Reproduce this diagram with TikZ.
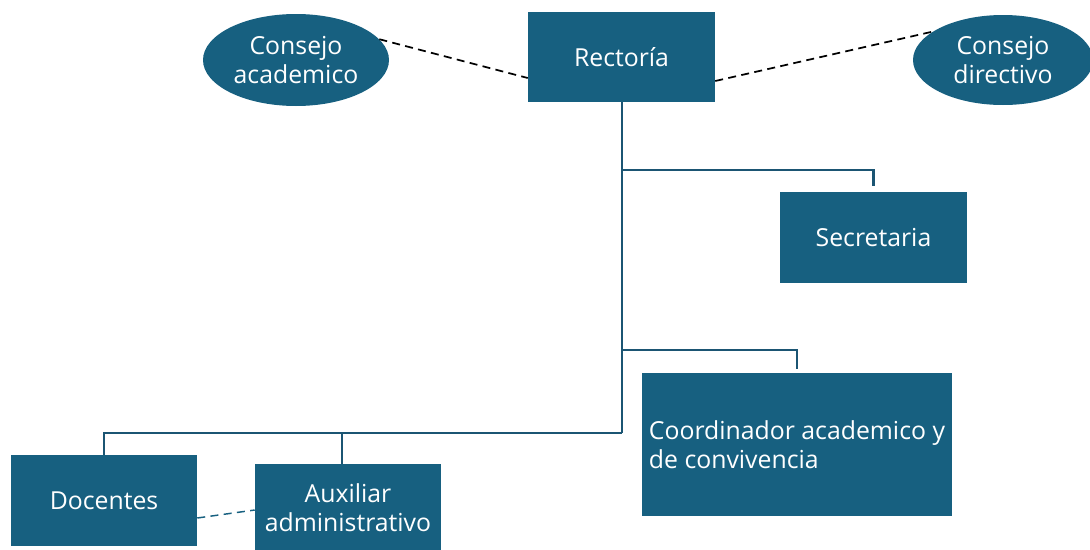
\documentclass[tikz,border=0pt]{standalone}
\usepackage{fontspec}
\setmainfont{Open Sans}
\usetikzlibrary{shapes.geometric}
\definecolor{boxc}{HTML}{176080}
\definecolor{linec}{HTML}{1B5573}
\begin{document}
\begin{tikzpicture}[x=0.75pt,y=-0.75pt,
  unitbox/.style={rectangle,fill=boxc,draw=none,text=white,inner sep=0pt,
    font=\fontsize{18.6}{21.5}\selectfont,align=center},
  council/.style={ellipse,fill=boxc,draw=none,text=white,inner sep=0pt,
    font=\fontsize{18.6}{21.5}\selectfont,align=center},
  tree/.style={draw=linec,line width=2.2pt},
  dashlink/.style={draw=black,dashed,line width=1.3pt,dash pattern=on 6pt off 4pt},
  dashlink2/.style={draw=boxc,dashed,line width=1.1pt,dash pattern=on 6pt off 4pt}]
\useasboundingbox (0,0) rectangle (1090,550);
\node[unitbox,minimum width=187*0.75pt,minimum height=90*0.75pt] (rect) at (621.5,57) {Rectoría};
\node[council,minimum width=186*0.75pt,minimum height=92*0.75pt] (cacad) at (296,60) {Consejo\\academico};
\node[council,minimum width=180*0.75pt,minimum height=90*0.75pt] (cdir) at (1003,60) {Consejo\\directivo};
\node[unitbox,minimum width=187*0.75pt,minimum height=91*0.75pt] (secr) at (873.5,237.5) {Secretaria};
\node[unitbox,minimum width=310*0.75pt,minimum height=143*0.75pt,align=left] (coord) at (797,444.5) {Coordinador academico y\\de convivencia};
\node[unitbox,minimum width=186*0.75pt,minimum height=91*0.75pt] (doc) at (104,500.5) {Docentes};
\node[unitbox,minimum width=186*0.75pt,minimum height=88*0.75pt] (aux) at (348,508) {Auxiliar\\administrativo};
\coordinate (j1) at (622,170);
\coordinate (j2) at (622,350);
\coordinate (j3) at (622,433);
\coordinate (j4) at (342,433);
\draw[tree] (j3 |- rect.south) -- (j3);
\draw[tree,shorten >=4pt] (j1) -| (secr.north);
\draw[tree,shorten >=3pt] (j2) -| (coord.north);
\draw[tree] (j3) -| (doc.north);
\draw[tree] (j4) -- (j4 |- aux.north);
\draw[dashlink] (cacad.14) -- (rect.west |- 0,78);
\draw[dashlink] (rect.east |- 0,81) -- (cdir.158);
\draw[dashlink2] (doc.east |- 0,518) -- (aux.west |- 0,510);
\end{tikzpicture}
\end{document}
